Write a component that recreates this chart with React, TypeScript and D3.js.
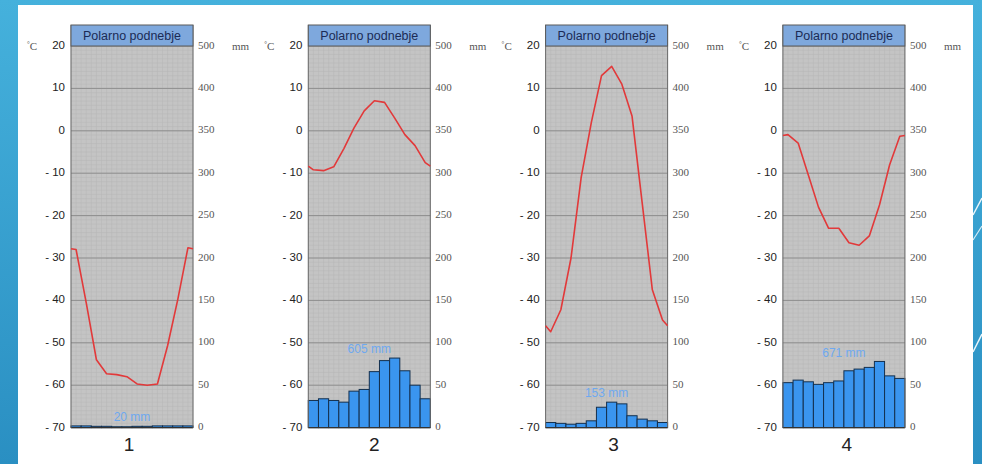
import React from "react";
import * as d3 from "d3";

const months = ["J", "F", "M", "A", "M", "J", "J", "A", "S", "O", "N", "D"];
const panelNames = ["1", "2", "3", "4"];
const titleText = "Polarno podnebje";
const totals = [20, 605, 153, 671];

const temp1 = [-28, -40.6, -54, -57.3, -57.5, -58, -59.7, -60, -59.7, -50.7, -39.8, -27.6];
const temp2 = [-9.2, -9.4, -8.5, -4.2, 0.7, 4.7, 7.1, 6.7, 3, -0.9, -3.5, -7.5];
const temp3 = [-47.4, -42.2, -30, -11, 2, 13, 15.2, 11, 3.5, -17, -37.5, -44.6];
const temp4 = [-0.9, -2.9, -10.4, -18, -23, -23, -26.4, -27, -24.8, -17.5, -8, -1.3];

const prec1 = [2, 2, 1.5, 1.5, 1, 1, 1.5, 1.5, 2, 2, 2, 2];
const prec2 = [32, 34, 32, 30, 43, 45, 66, 79, 82, 67, 50, 34];
const prec3 = [6, 5, 4, 5, 8, 24, 30, 28, 14, 10, 8, 6];
const prec4 = [53, 56, 54, 51, 53, 55, 67, 69, 71, 78, 61, 58];

const tempTicks = [20, 10, 0, -10, -20, -30, -40, -50, -60, -70];
const precTicks = [500, 400, 350, 300, 250, 200, 150, 100, 50, 0];

const temps = [temp1, temp2, temp3, temp4];
const precs = [prec1, prec2, prec3, prec4];

const W = 982;
const H = 464;
const plotW = 122;
const plotTop = 46;
const plotBottom = 427.6;
const titleTop = 25;
const panelStep = 237.3;
const firstLeft = 71;
const numberShift = [-3, 5, 7, 3];

const yT = d3.scaleLinear().domain([-70, 20]).range([plotBottom, plotTop]);
const yP = d3
  .scaleLinear()
  .domain([0, 400, 500])
  .range([yT(-70), yT(10), yT(20)]);

const fmtT = (v: number) => (v < 0 ? "- " + Math.abs(v) : String(v));

function Panel({ idx }: { idx: number }) {
  const left = firstLeft + idx * panelStep;
  const keys = months.map((m, i) => i + m);
  const x = d3.scaleBand<string>().domain(keys).range([left, left + plotW]).padding(0);
  const bw = x.bandwidth();
  const t = temps[idx];
  const p = precs[idx];
  const edge = (t[0] + t[11]) / 2;
  const pts: [number, number][] = [
    [left, edge],
    ...t.map((v, i) => [(x(keys[i]) as number) + bw / 2, v] as [number, number]),
    [left + plotW, edge],
  ];
  const line = d3
    .line<[number, number]>()
    .x((d) => d[0])
    .y((d) => yT(d[1]));
  const minorH = d3.range(-70, 20.01, 1);
  const minorV = d3.range(0, 24.01, 1).map((k) => left + (k * plotW) / 24);
  const maxP = d3.max(p) as number;
  const cx = left + plotW / 2;
  return (
    <g>
      <rect x={left} y={plotTop} width={plotW} height={plotBottom - plotTop} fill="#c4c4c4" />
      {minorH.map((v) => (
        <line key={"h" + v} x1={left} x2={left + plotW} y1={yT(v)} y2={yT(v)} stroke="#b7b7b7" strokeWidth={0.5} />
      ))}
      {minorV.map((xv, k) => (
        <line key={"v" + k} x1={xv} x2={xv} y1={plotTop} y2={plotBottom} stroke="#b7b7b7" strokeWidth={0.5} />
      ))}
      {tempTicks.map((v) => (
        <line key={"g" + v} x1={left} x2={left + plotW} y1={yT(v)} y2={yT(v)} stroke="#8e8e8e" strokeWidth={1} />
      ))}
      {p.map((v, i) => (
        <rect
          key={"b" + i}
          x={x(keys[i]) as number}
          y={yP(v)}
          width={bw}
          height={yP(0) - yP(v)}
          fill="#3a95ef"
          stroke="#14304e"
          strokeWidth={1}
        />
      ))}
      <line x1={left} x2={left + plotW} y1={plotBottom} y2={plotBottom} stroke="#333" strokeWidth={1.2} />
      <line x1={left} x2={left} y1={titleTop} y2={plotBottom} stroke="#6a6a6a" strokeWidth={1} />
      <line x1={left + plotW} x2={left + plotW} y1={titleTop} y2={plotBottom} stroke="#6a6a6a" strokeWidth={1} />
      <path d={line(pts) as string} fill="none" stroke="#e2393a" strokeWidth={1.6} strokeLinejoin="round" />
      <text
        x={cx}
        y={yP(maxP) - 8}
        textAnchor="middle"
        dominantBaseline="middle"
        fontFamily="Liberation Sans, Arial, sans-serif"
        fontSize={12}
        fill="#6ea9f0"
      >
        {totals[idx] + " mm"}
      </text>
      <rect x={left} y={titleTop} width={plotW} height={plotTop - titleTop} fill="#7ea8dd" stroke="#5a5a5a" strokeWidth={1} />
      <text
        x={cx}
        y={(titleTop + plotTop) / 2 + 1}
        textAnchor="middle"
        dominantBaseline="middle"
        fontFamily="Liberation Sans, Arial, sans-serif"
        fontSize={12.5}
        fill="#1b2b55"
      >
        {titleText}
      </text>
      {tempTicks.map((v) => (
        <text
          key={"tl" + v}
          x={left - 6}
          y={yT(v)}
          textAnchor="end"
          dominantBaseline="middle"
          fontFamily="Liberation Sans, Arial, sans-serif"
          fontSize={11.5}
          fill="#222"
        >
          {fmtT(v)}
        </text>
      ))}
      {precTicks.map((v) => (
        <text
          key={"pl" + v}
          x={left + plotW + 5}
          y={yP(v)}
          dominantBaseline="middle"
          fontFamily="Liberation Serif, Times New Roman, serif"
          fontSize={11}
          fill="#555"
        >
          {v}
        </text>
      ))}
      <text
        x={left - 44}
        y={plotTop + 1}
        dominantBaseline="middle"
        fontFamily="Liberation Serif, Times New Roman, serif"
        fontSize={11}
        fill="#555"
      >
        <tspan fontSize={7} dy={-3}>°</tspan>
        <tspan dy={3}>C</tspan>
      </text>
      <text
        x={left + plotW + 39}
        y={plotTop + 1}
        dominantBaseline="middle"
        fontFamily="Liberation Serif, Times New Roman, serif"
        fontSize={11}
        fill="#555"
      >
        mm
      </text>
      <text
        x={cx + numberShift[idx]}
        y={451}
        textAnchor="middle"
        fontFamily="Liberation Sans, Arial, sans-serif"
        fontSize={19}
        fill="#222"
      >
        {panelNames[idx]}
      </text>
    </g>
  );
}

export default function App() {
  return (
    <svg
      width={W}
      height={H}
      viewBox={`0 0 ${W} ${H}`}
      style={{ position: "absolute", left: 0, top: 0, display: "block" }}
    >
      <defs>
        <linearGradient id="bg" x1="0" y1="0" x2="0" y2="1">
          <stop offset="0" stopColor="#45b1dc" />
          <stop offset="1" stopColor="#2a8fc2" />
        </linearGradient>
      </defs>
      <rect x={0} y={0} width={W} height={H} fill="url(#bg)" />
      <rect x={18} y={5} width={955} height={H - 5} fill="#ffffff" />
      <line x1={973} y1={215} x2={982} y2={198} stroke="#ffffff" strokeWidth={1.5} opacity={0.9} />
      <line x1={973} y1={240} x2={982} y2={226} stroke="#ffffff" strokeWidth={1.2} opacity={0.8} />
      <line x1={973} y1={352} x2={982} y2={334} stroke="#ffffff" strokeWidth={1.5} opacity={0.9} />
      {panelNames.map((n, i) => (
        <Panel key={n} idx={i} />
      ))}
    </svg>
  );
}
